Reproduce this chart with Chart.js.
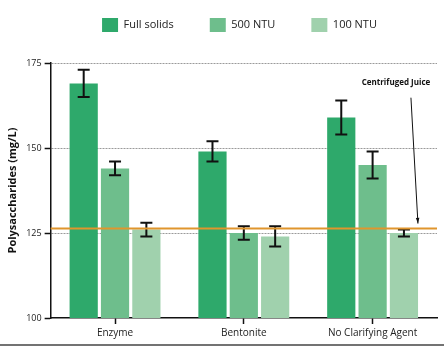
<!DOCTYPE html>
<html>
<head>
<meta charset="utf-8">
<script src="https://cdn.jsdelivr.net/npm/chart.js@4/dist/chart.umd.min.js"></script>
<style>
  html, body { margin: 0; padding: 0; background: #fff; }
  #wrap { width: 444px; height: 350px; }
</style>
</head>
<body>
<div id="wrap"><canvas id="chartPoly"></canvas></div>
<script>
const categories = ['Enzyme', 'Bentonite', 'No Clarifying Agent'];
const seriesNames = ['Full solids', '500 NTU', '100 NTU'];
const fullSolids = [169, 149, 159];
const fullSolidsErr = [4, 3, 5];
const ntu500 = [144, 125, 145];
const ntu500Err = [2, 2, 4];
const ntu100 = [126, 124, 125];
const ntu100Err = [2, 3, 1];
const centrifugedJuice = 126.3;
const yTicks = [100, 125, 150, 175];

const errors = [fullSolidsErr, ntu500Err, ntu100Err];

// error bars on top of each bar
const errorBars = {
    id: 'errorBars',
    afterDatasetsDraw(chart) {
        const ctx = chart.ctx;
        const y = chart.scales.y;
        ctx.save();
        ctx.strokeStyle = '#111';
        ctx.lineWidth = 2;
        chart.data.datasets.forEach((ds, i) => {
            chart.getDatasetMeta(i).data.forEach((bar, j) => {
                const v = ds.data[j];
                const e = errors[i][j];
                const top = y.getPixelForValue(v + e);
                const bot = y.getPixelForValue(v - e);
                ctx.beginPath();
                ctx.moveTo(bar.x, top);
                ctx.lineTo(bar.x, bot);
                ctx.moveTo(bar.x - 6, top);
                ctx.lineTo(bar.x + 6, top);
                ctx.moveTo(bar.x - 6, bot);
                ctx.lineTo(bar.x + 6, bot);
                ctx.stroke();
            });
        });
        ctx.restore();
    }
};

// centrifuged juice reference line + label
const juiceLine = {
    id: 'juiceLine',
    afterDatasetsDraw(chart) {
        const ctx = chart.ctx;
        const area = chart.chartArea;
        const y = chart.scales.y;
        const py = y.getPixelForValue(centrifugedJuice);
        ctx.save();
        ctx.strokeStyle = '#e0952d';
        ctx.lineWidth = 2;
        ctx.beginPath();
        ctx.moveTo(area.left, py);
        ctx.lineTo(area.right, py);
        ctx.stroke();

        const bar = chart.getDatasetMeta(2).data[2];
        const x0 = bar.x + 7, y0 = y.getPixelForValue(164.8);
        const x1 = bar.x + 14, y1 = py - 5;
        ctx.strokeStyle = '#111';
        ctx.fillStyle = '#111';
        ctx.lineWidth = 1;
        ctx.beginPath();
        ctx.moveTo(x0, y0);
        ctx.lineTo(x1, y1);
        ctx.stroke();
        const ang = Math.atan2(y1 - y0, x1 - x0);
        ctx.beginPath();
        ctx.moveTo(x1, y1);
        ctx.lineTo(x1 - 6 * Math.cos(ang - 0.3), y1 - 6 * Math.sin(ang - 0.3));
        ctx.lineTo(x1 - 6 * Math.cos(ang + 0.3), y1 - 6 * Math.sin(ang + 0.3));
        ctx.closePath();
        ctx.fill();

        ctx.font = 'bold 8px "Open Sans"';
        ctx.textAlign = 'center';
        ctx.textBaseline = 'middle';
        ctx.fillText('Centrifuged Juice', bar.x - 8, y.getPixelForValue(169.2));
        ctx.restore();
    }
};

// extra room under the legend, and nudge it right
const legendSpace = {
    id: 'legendSpace',
    beforeLayout(chart) {
        const lg = chart.legend;
        if (lg && !lg._patched) {
            const fit = lg.fit;
            lg.fit = function () {
                fit.call(this);
                this.height += 21;
            };
            lg._patched = true;
        }
    },
    afterLayout(chart) {
        chart.legend.left += 18;
        chart.legend.right += 18;
    }
};

const frameLine = {
    id: 'frameLine',
    afterDraw(chart) {
        const ctx = chart.ctx;
        ctx.save();
        ctx.strokeStyle = '#444';
        ctx.lineWidth = 1.5;
        ctx.beginPath();
        ctx.moveTo(0, chart.height - 5);
        ctx.lineTo(chart.width, chart.height - 5);
        ctx.stroke();
        ctx.restore();
    }
};

const ctxPoly = document.getElementById('chartPoly');
const chartPoly = new Chart(ctxPoly, {
    type: 'bar',
    data: {
        labels: categories,
        datasets: [{
            label: seriesNames[0],
            data: fullSolids,
            backgroundColor: '#2ea96b'
        }, {
            label: seriesNames[1],
            data: ntu500,
            backgroundColor: '#6ebe8c'
        }, {
            label: seriesNames[2],
            data: ntu100,
            backgroundColor: '#a0d1ad'
        }]
    },
    options: {
        responsive: true,
        maintainAspectRatio: false,
        animation: false,
        layout: {
            padding: { top: -18, right: 7, bottom: 8, left: 6 }
        },
        datasets: {
            bar: {
                barPercentage: 0.9,
                categoryPercentage: 0.73
            }
        },
        plugins: {
            legend: {
                position: 'top',
                labels: {
                    boxWidth: 16,
                    boxHeight: 14,
                    padding: 36,
                    color: '#222',
                    font: { family: 'Open Sans', size: 11 }
                }
            },
            tooltip: { enabled: false }
        },
        scales: {
            x: {
                grid: {
                    offset: false,
                    drawOnChartArea: false,
                    drawTicks: true,
                    tickLength: 6,
                    tickColor: '#111',
                    tickWidth: 1.5
                },
                border: { color: '#111', width: 1.5 },
                ticks: {
                    color: '#222',
                    padding: 3,
                    font: { family: 'Open Sans', size: 10 }
                }
            },
            y: {
                min: 100,
                max: 175,
                afterBuildTicks(axis) {
                    axis.ticks = yTicks.map(v => ({ value: v }));
                },
                grid: {
                    color: (c) => c.tick && c.tick.value === 100 ? 'rgba(0,0,0,0)' : '#9a9a9a',
                    lineWidth: 1,
                    tickLength: 6,
                    tickColor: '#111',
                    tickWidth: 1.5
                },
                border: { color: '#111', width: 1.5, dash: [2, 1] },
                ticks: {
                    color: '#222',
                    padding: 3,
                    font: { family: 'Open Sans', size: 9 }
                },
                title: {
                    display: true,
                    text: 'Polysaccharides (mg/L)',
                    color: '#111',
                    padding: { top: 0, bottom: 4 },
                    font: { family: 'Open Sans', size: 11, weight: 'bold' }
                }
            }
        }
    },
    plugins: [errorBars, juiceLine, legendSpace, frameLine]
});
</script>
</body>
</html>
